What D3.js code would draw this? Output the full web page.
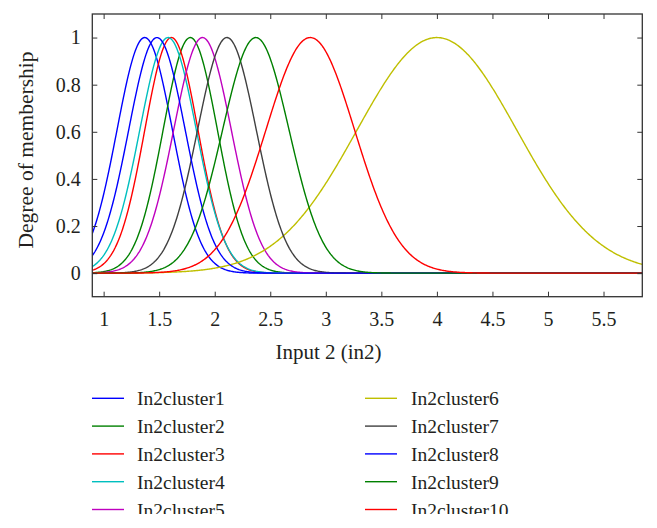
<!DOCTYPE html>
<html>
<head>
<meta charset="utf-8">
<script src="https://cdn.jsdelivr.net/npm/d3@7"></script>
<style>
  html, body { margin: 0; padding: 0; background: #fff; }
  svg { display: block; }
  text { font-family: "Liberation Serif", "Times New Roman", serif; fill: #231f20; }
</style>
</head>
<body>
<svg id="chart" width="657" height="528"></svg>
<script>
// Gaussian membership functions: centre and spread
const clusterNames = ["In2cluster1","In2cluster2","In2cluster3","In2cluster4","In2cluster5",
                      "In2cluster6","In2cluster7","In2cluster8","In2cluster9","In2cluster10"];
const clusterCenters = [1.37, 1.78, 1.61, 1.58, 1.89, 4.00, 2.11, 1.48, 2.37, 2.86];
const clusterSigmas  = [0.25, 0.245, 0.24, 0.255, 0.26, 0.72, 0.265, 0.255, 0.30, 0.40];
const clusterColors  = ["#0000ff","#008000","#ff0000","#00bfbf","#bf00bf",
                        "#bfbf00","#404040","#0000ff","#008000","#ff0000"];
const xTicks = [1, 1.5, 2, 2.5, 3, 3.5, 4, 4.5, 5, 5.5];
const yTicks = [0, 0.2, 0.4, 0.6, 0.8, 1];
const xDomain = [0.898, 5.849];
const yDomain = [-0.1, 1.1];

const svg = d3.select("#chart");
const L = 92.3, R = 642.3, T = 14, B = 296.7;
const x = d3.scaleLinear().domain(xDomain).range([L, R]);
const y = d3.scaleLinear().domain(yDomain).range([B, T]);

const defs = svg.append("defs");
defs.append("clipPath").attr("id", "plotclip")
  .append("rect").attr("x", L).attr("y", T).attr("width", R - L).attr("height", B - T);
defs.append("clipPath").attr("id", "legclip")
  .append("rect").attr("x", 0).attr("y", 370).attr("width", 657).attr("height", 144);

// curves
const nSamp = 600;
const xs = d3.range(nSamp + 1).map(i => xDomain[0] + (xDomain[1] - xDomain[0]) * i / nSamp);
const line = d3.line().x(d => x(d[0])).y(d => y(d[1]));
const g = svg.append("g").attr("clip-path", "url(#plotclip)");
clusterNames.forEach((name, i) => {
  const c = clusterCenters[i], s = clusterSigmas[i];
  const pts = xs.map(v => [v, Math.exp(-((v - c) * (v - c)) / (2 * s * s))]);
  g.append("path").datum(pts).attr("d", line)
    .attr("fill", "none").attr("stroke", clusterColors[i]).attr("stroke-width", 1.4);
});

// axes with inward ticks on all four sides
const tickLen = 5;
const axisColor = "#333";
svg.append("g").attr("transform", `translate(0,${B})`)
  .call(d3.axisBottom(x).tickValues(xTicks).tickSize(-tickLen).tickFormat(d3.format("")).tickPadding(15.5))
  .call(a => { a.select(".domain").remove(); a.selectAll("line").attr("stroke", axisColor);
               a.selectAll("text").attr("font-size", 20).attr("font-family", "Liberation Serif").attr("fill", "#231f20"); });
svg.append("g").attr("transform", `translate(0,${T})`)
  .call(d3.axisTop(x).tickValues(xTicks).tickSize(-tickLen).tickFormat(""))
  .call(a => { a.select(".domain").remove(); a.selectAll("line").attr("stroke", axisColor); });
svg.append("g").attr("transform", `translate(${L},0)`)
  .call(d3.axisLeft(y).tickValues(yTicks).tickSize(-tickLen).tickFormat(d3.format("")).tickPadding(11.5))
  .call(a => { a.select(".domain").remove(); a.selectAll("line").attr("stroke", axisColor);
               a.selectAll("text").attr("font-size", 20).attr("font-family", "Liberation Serif").attr("fill", "#231f20"); });
svg.append("g").attr("transform", `translate(${R},0)`)
  .call(d3.axisRight(y).tickValues(yTicks).tickSize(-tickLen).tickFormat(""))
  .call(a => { a.select(".domain").remove(); a.selectAll("line").attr("stroke", axisColor); });

svg.append("rect").attr("x", L).attr("y", T).attr("width", R - L).attr("height", B - T)
  .attr("fill", "none").attr("stroke", axisColor).attr("stroke-width", 1.3);

// axis titles
svg.append("text").attr("x", 328.5).attr("y", 358.5).attr("text-anchor", "middle")
  .attr("font-size", 21).text("Input 2 (in2)");
svg.append("text").attr("transform", "translate(33,150) rotate(-90)").attr("text-anchor", "middle")
  .attr("font-size", 21.5).text("Degree of membership");

// legend (bottom row is cut off in the source figure)
const leg = svg.append("g").attr("clip-path", "url(#legclip)");
const legX = [92, 365], legTextX = [137, 411], legY0 = 398.3, legDy = 27.8;
clusterNames.forEach((name, i) => {
  const col = Math.floor(i / 5), row = i % 5;
  const yy = legY0 + row * legDy;
  leg.append("line").attr("x1", legX[col]).attr("x2", legX[col] + 32).attr("y1", yy).attr("y2", yy)
    .attr("stroke", clusterColors[i]).attr("stroke-width", 1.4);
  leg.append("text").attr("x", legTextX[col]).attr("y", yy + 7).attr("font-size", 19.5).text(name);
});
</script>
</body>
</html>
